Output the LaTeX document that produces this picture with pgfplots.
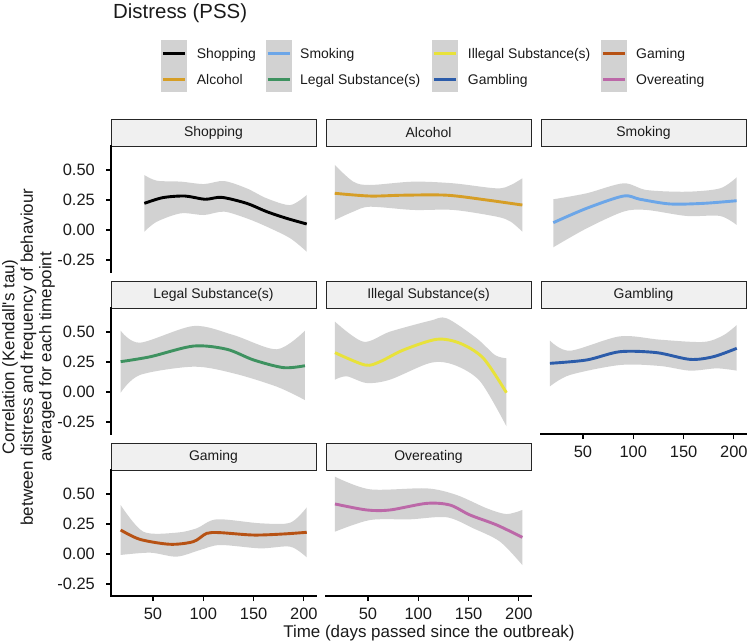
\documentclass[border=0pt]{standalone}
\usepackage{fontspec}
\setmainfont{Liberation Sans}
\usepackage{pgfplots}
\pgfplotsset{compat=1.18}
\usepgfplotslibrary{fillbetween}

\definecolor{cShop}{RGB}{0,0,0}
\definecolor{cAlc}{RGB}{214,158,38}
\definecolor{cSmoke}{RGB}{108,166,232}
\definecolor{cLegal}{RGB}{62,146,96}
\definecolor{cIlleg}{RGB}{232,226,58}
\definecolor{cGamb}{RGB}{44,92,170}
\definecolor{cGame}{RGB}{183,82,20}
\definecolor{cOver}{RGB}{188,104,168}
\definecolor{ribbon}{RGB}{210,210,210}
\definecolor{stripfill}{RGB}{240,240,240}
\definecolor{txt}{RGB}{26,26,26}

\pgfplotsset{
  panel/.style={
    scale only axis, width=205bp, height=126bp, anchor=north west,
    xmin=8.3, xmax=212, ymin=-0.35, ymax=0.70,
    axis line style={draw=none}, clip=false,
    tick align=outside, tick pos=left, major tick length=5bp,
    every tick/.style={black, line width=1.1bp},
    tick label style={font=\fontsize{16.5}{18}\selectfont, text=txt, inner sep=0pt},
    xticklabel style={yshift=-7bp}, yticklabel style={xshift=-11bp},
    xtick=\empty, ytick=\empty,
  },
  showx/.style={xtick={50,100,150,200}, xticklabels={50,100,150,200}},
  showy/.style={ytick={-0.25,0,0.25,0.5}, yticklabels={-0.25,0.00,0.25,0.50}},
  band/.style={draw=none, smooth},
  fit/.style={smooth, line width=2.9bp},
}
\tikzset{
  strip/.style={anchor=south west, draw=black!85, line width=1bp, fill=stripfill,
    minimum width=205bp, minimum height=27bp, inner sep=0pt, outer sep=0pt,
    text=txt, font=\fontsize{14}{16}\selectfont},
  axisline/.style={black, line width=1.3bp, line cap=rect},
}
\newcommand{\strip}[1]{\node[strip] at (rel axis cs:0,1) {#1};}
\newcommand{\yline}{\draw[axisline] (rel axis cs:0,0) -- (rel axis cs:0,1);}
\newcommand{\xline}{\draw[axisline] (rel axis cs:0,0) -- (rel axis cs:1,0);}

\begin{document}
\begin{tikzpicture}

% title and legend
\node[anchor=base west, font=\fontsize{20.5}{23}\selectfont, text=txt, inner sep=0pt] at (113bp,-18.3bp) {Distress (PSS)};
\foreach \kx/\lx/\ca/\la/\cb/\lb in {
  161/196.7/cShop/Shopping/cAlc/Alcohol,
  265.7/300/cSmoke/Smoking/cLegal/Legal Substance(s),
  432.3/467.7/cIlleg/Illegal Substance(s)/cGamb/Gambling,
  601/636/cGame/Gaming/cOver/Overeating}{
  \fill[ribbon] (\kx bp,-40bp) rectangle ++(26bp,-52bp);
  \draw[\ca, line width=2.6bp] (\kx bp+2bp,-53.3bp) -- ++(22bp,0);
  \draw[\cb, line width=2.6bp] (\kx bp+2bp,-79.3bp) -- ++(22bp,0);
  \node[anchor=base west, font=\fontsize{14}{16}\selectfont, text=txt, inner sep=0pt] at (\lx bp,-58.3bp) {\la};
  \node[anchor=base west, font=\fontsize{14}{16}\selectfont, text=txt, inner sep=0pt] at (\lx bp,-84.3bp) {\lb};
}

% Shopping
\begin{axis}[panel, showy, at={(111bp,-146bp)}]
\addplot[band, name path=u] coordinates {(41.4,0.458)(53.8,0.411)(77.7,0.403)(100.7,0.383)(120.6,0.408)(143.2,0.347)(163,0.264)(186.4,0.208)(202.8,0.292)};
\addplot[band, name path=l] coordinates {(41.4,-0.014)(53.8,0.069)(77.7,0.139)(100.7,0.125)(120.6,0.153)(143.2,0.097)(163,0.028)(186.4,-0.069)(202.8,-0.181)};
\addplot[ribbon] fill between[of=u and l];
\addplot[fit, cShop] coordinates {(41.4,0.222)(60,0.270)(81.9,0.283)(101.7,0.256)(118.3,0.272)(143.2,0.222)(163,0.153)(182.9,0.097)(202.8,0.050)};
\strip{Shopping}
\yline
\end{axis}

% Alcohol
\begin{axis}[panel, at={(326bp,-146bp)}]
\addplot[band, name path=u] coordinates {(17,0.542)(35.4,0.403)(52,0.375)(95,0.403)(135,0.389)(178,0.347)(191.9,0.375)(203.4,0.431)};
\addplot[band, name path=l] coordinates {(17,0.083)(35.4,0.153)(52,0.194)(95,0.167)(135,0.167)(178,0.111)(191.9,0.069)(203.4,-0.014)};
\addplot[ribbon] fill between[of=u and l];
\addplot[fit, cAlc] coordinates {(17,0.306)(52,0.283)(85.2,0.290)(128.3,0.290)(168,0.250)(203.4,0.208)};
\strip{Alcohol}
\end{axis}

% Smoking
\begin{axis}[panel, at={(541bp,-146bp)}]
\addplot[band, name path=u] coordinates {(20.5,0.256)(53.7,0.306)(90.2,0.389)(113.3,0.333)(153,0.319)(186.2,0.347)(202.7,0.439)};
\addplot[band, name path=l] coordinates {(20.5,-0.144)(53.7,0.014)(90.2,0.153)(113.3,0.167)(153,0.117)(186.2,0.117)(202.7,0.042)};
\addplot[ribbon] fill between[of=u and l];
\addplot[fit, cSmoke] coordinates {(20.5,0.061)(53.7,0.181)(90.2,0.283)(106.7,0.256)(136.5,0.217)(169.6,0.222)(202.7,0.244)};
\strip{Smoking}
\end{axis}

% Legal Substance(s)
\begin{axis}[panel, showy, at={(111bp,-308bp)}]
\addplot[band, name path=u] coordinates {(17.9,0.511)(37.1,0.411)(90.4,0.550)(129.9,0.475)(173.2,0.356)(201,0.511)};
\addplot[band, name path=l] coordinates {(17.9,-0.006)(37.1,0.142)(90.4,0.211)(129.9,0.156)(173.2,0.044)(201,-0.067)};
\addplot[ribbon] fill between[of=u and l];
\addplot[fit, cLegal] coordinates {(17.9,0.253)(47.4,0.294)(90.4,0.383)(123.4,0.356)(150,0.267)(179.8,0.203)(201,0.219)};
\strip{Legal Substance(s)}
\yline
\end{axis}

% Illegal Substance(s)
\begin{axis}[panel, at={(326bp,-308bp)}]
\addplot[band, name path=u] coordinates {(17.2,0.586)(45.4,0.419)(71.9,0.503)(111.7,0.594)(128.3,0.614)(158.1,0.447)(176.2,0.308)(187.6,0.281)};
\addplot[band, name path=l] coordinates {(17.2,0.103)(28.9,0.131)(48.7,0.075)(71.9,0.103)(111.7,0.242)(134.9,0.228)(161.4,0.089)(187.6,-0.286)};
\addplot[ribbon] fill between[of=u and l];
\addplot[fit, cIlleg] coordinates {(17.2,0.328)(47,0.225)(62,0.253)(85.2,0.350)(118.3,0.439)(141.5,0.406)(164.7,0.281)(187.6,-0.006)};
\strip{Illegal Substance(s)}
\end{axis}

% Gambling
\begin{axis}[panel, showx, at={(541bp,-308bp)}]
\addplot[band, name path=u] coordinates {(17.2,0.428)(37.1,0.344)(86.8,0.464)(126.5,0.436)(169.6,0.417)(189.4,0.472)(202.8,0.558)};
\addplot[band, name path=l] coordinates {(17.2,0.047)(37.1,0.142)(86.8,0.225)(126.5,0.217)(156.3,0.178)(182.9,0.197)(202.8,0.178)};
\addplot[ribbon] fill between[of=u and l];
\addplot[fit, cGamb] coordinates {(17.2,0.239)(53.7,0.267)(86.8,0.336)(123.2,0.328)(156.3,0.272)(179.5,0.294)(202.8,0.364)};
\strip{Gambling}
\xline
\end{axis}

% Gaming
\begin{axis}[panel, showx, showy, at={(111bp,-470bp)}]
\addplot[band, name path=u] coordinates {(17.9,0.408)(40.4,0.186)(73.5,0.178)(93.4,0.214)(113.3,0.289)(156.6,0.256)(186.4,0.261)(202.8,0.389)};
\addplot[band, name path=l] coordinates {(17.9,-0.008)(47.4,0.011)(73.5,-0.022)(96.7,0.033)(116.7,0.075)(156.6,0.047)(186.4,0.061)(202.8,-0.028)};
\addplot[ribbon] fill between[of=u and l];
\addplot[fit, cGame] coordinates {(17.9,0.200)(37.1,0.122)(66.9,0.081)(90.1,0.103)(103.4,0.172)(116.7,0.178)(150,0.158)(179.8,0.167)(202.8,0.181)};
\strip{Gaming}
\xline
\yline
\end{axis}

% Overeating
\begin{axis}[panel, showx, at={(326bp,-470bp)}]
\addplot[band, name path=u] coordinates {(17.2,0.644)(52,0.539)(108.3,0.547)(138,0.492)(168,0.381)(187.6,0.333)(203.4,0.367)};
\addplot[band, name path=l] coordinates {(17.2,0.186)(52,0.283)(91.8,0.289)(128.3,0.306)(154.7,0.214)(181.2,0.103)(203.4,-0.092)};
\addplot[ribbon] fill between[of=u and l];
\addplot[fit, cOver] coordinates {(17.2,0.417)(48.7,0.367)(71.9,0.367)(108.3,0.422)(131.5,0.408)(151.4,0.325)(177.9,0.242)(203.4,0.139)};
\strip{Overeating}
\xline
\end{axis}

% axis titles
\node[font=\fontsize{17}{18.5}\selectfont, text=txt, rotate=90, align=center] at (28.5bp,-357bp)
  {Correlation (Kendall\textquotesingle s tau)\\between distress and frequency of behaviour\\averaged for each timepoint};
\node[font=\fontsize{17}{19}\selectfont, text=txt, inner sep=0pt, anchor=base] at (429bp,-637.5bp) {Time (days passed since the outbreak)};

\pgfresetboundingbox
\path[use as bounding box] (0,0) rectangle (750bp,-644bp);
\end{tikzpicture}
\end{document}
